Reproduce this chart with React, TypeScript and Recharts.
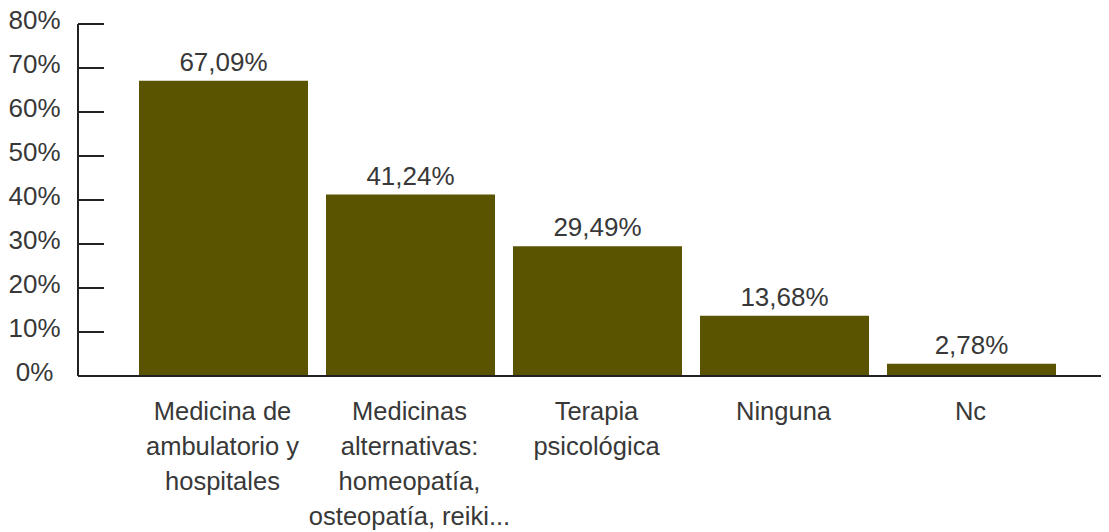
import React from "react";
import { BarChart, Bar, XAxis, YAxis, LabelList } from "recharts";

const categories = [
  "Medicina de\nambulatorio y\nhospitales",
  "Medicinas\nalternativas:\nhomeopatía,\nosteopatía, reiki...",
  "Terapia\npsicológica",
  "Ninguna",
  "Nc",
];
const values = [67.09, 41.24, 29.49, 13.68, 2.78];
const yTicks = [0, 10, 20, 30, 40, 50, 60, 70, 80];

const data = categories.map((c, i) => ({ name: c, value: values[i] }));

const FONT = "'Liberation Sans', Arial, sans-serif";
const TEXT = "#383838";
const AXIS = "#222222";
const BAR = "#5a5300";
const FS = 26;

const fmt = (v: number) => v.toFixed(2).replace(".", ",") + "%";

const YTick = (props: any) => {
  const { y, payload } = props;
  return (
    <g>
      <line x1={70} x2={96} y1={y} y2={y} stroke={AXIS} strokeWidth={2} />
      <text x={26.5} y={y} dy={5} textAnchor="middle" fill={TEXT} fontSize={FS} fontFamily={FONT}>
        {payload.value + "%"}
      </text>
    </g>
  );
};

const XTick = (props: any) => {
  const { x, y, payload } = props;
  const lines = String(payload.value).split("\n");
  return (
    <g>
      {lines.map((l, i) => (
        <text key={i} x={x - 1} y={y + 36 + i * 35} textAnchor="middle" fill={TEXT} fontSize={25.5} fontFamily={FONT}>
          {l}
        </text>
      ))}
    </g>
  );
};

export default function App() {
  return (
    <div style={{ width: 1101, height: 532, marginTop: -8 }}>
      <BarChart
        width={1101}
        height={532}
        data={data}
        margin={{ top: 24, right: 0, bottom: 6, left: 0 }}
        barCategoryGap={9}
      >
        <XAxis
          dataKey="name"
          axisLine={{ stroke: AXIS, strokeWidth: 2 }}
          tickLine={false}
          tickSize={0}
          tickMargin={8}
          tick={<XTick />}
          height={150}
          interval={0}
          padding={{ left: 52, right: 44 }}
        />
        <YAxis
          domain={[0, 80]}
          ticks={yTicks}
          width={70}
          axisLine={{ stroke: AXIS, strokeWidth: 2 }}
          tickLine={false}
          tick={<YTick />}
          interval={0}
        />
        <Bar dataKey="value" fill={BAR} isAnimationActive={false}>
          <LabelList
            dataKey="value"
            position="top"
            offset={10}
            formatter={(v: any) => fmt(Number(v))}
            style={{ fill: TEXT, fontSize: FS, fontFamily: FONT }}
          />
        </Bar>
      </BarChart>
    </div>
  );
}
